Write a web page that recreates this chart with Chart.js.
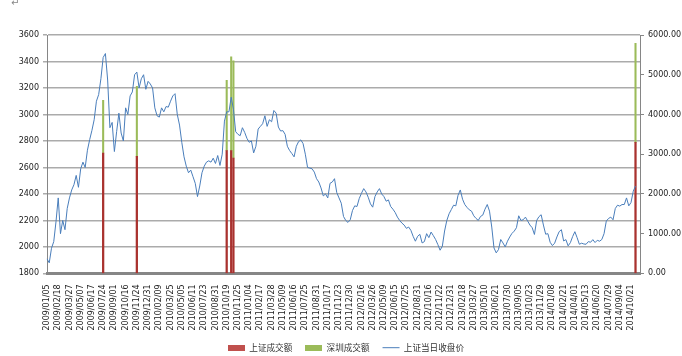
<!DOCTYPE html>
<html><head><meta charset="utf-8">
<script src="https://cdn.jsdelivr.net/npm/chart.js@4/dist/chart.umd.min.js"></script>
<style>
html,body{margin:0;padding:0;background:#fff;overflow:hidden;}
#wrap{position:relative;width:682px;height:362px;}
#mark{position:absolute;left:11px;top:-3px;font:10px "DejaVu Sans";color:#888;}
</style></head><body>
<div id="wrap"><canvas id="c" width="682" height="362"></canvas><span id="mark">↵</span></div>
<script>
const tickLabels = [
'2009/01/05','2009/02/18','2009/03/27','2009/05/07','2009/06/17','2009/07/24','2009/09/01','2009/10/16','2009/11/24','2009/12/31',
'2010/02/09','2010/03/25','2010/05/05','2010/06/11','2010/07/23','2010/08/31','2010/10/19','2010/11/25',
'2011/01/04','2011/02/17','2011/03/28','2011/05/09','2011/06/16','2011/07/25','2011/08/31','2011/10/17','2011/11/23','2011/12/30',
'2012/02/16','2012/03/26','2012/05/09','2012/06/15','2012/07/25','2012/08/31','2012/10/16','2012/11/22','2012/12/31',
'2013/02/18','2013/03/27','2013/05/10','2013/06/21','2013/07/30','2013/09/05','2013/10/23','2013/11/29',
'2014/01/08','2014/02/21','2014/04/01','2014/05/13','2014/06/20','2014/07/29','2014/09/04','2014/10/21'];
const pointsPerLabel = 5;
const categoryCount = 265;

const shClose = [
1910,1880,1990,2040,2190,2370,2100,2200,2130,2290,
2370,2430,2470,2540,2450,2590,2640,2600,2730,2810,
2880,2960,3100,3150,3270,3430,3460,3260,2900,2940,
2720,2870,3010,2860,2800,3050,3000,3140,3170,3300,
3320,3200,3270,3300,3190,3250,3230,3200,3050,2990,
2980,3050,3020,3060,3055,3100,3140,3157,3000,2920,
2790,2680,2610,2560,2580,2530,2480,2380,2460,2560,
2610,2640,2650,2640,2670,2630,2690,2615,2700,2950,
3020,3020,3130,3040,2870,2850,2840,2900,2865,2820,
2790,2800,2710,2760,2890,2910,2930,2990,2910,2960,
2945,3030,3010,2905,2875,2878,2850,2760,2728,2705,
2680,2760,2795,2808,2780,2700,2600,2595,2590,2565,
2515,2490,2445,2385,2400,2370,2480,2490,2515,2410,
2370,2330,2230,2200,2185,2205,2275,2310,2305,2365,
2405,2440,2415,2375,2325,2300,2380,2415,2440,2400,
2380,2345,2355,2305,2285,2260,2225,2200,2180,2165,
2140,2150,2125,2080,2043,2080,2095,2030,2040,2100,
2070,2112,2085,2056,2018,1975,2005,2120,2200,2250,
2282,2315,2310,2390,2430,2360,2320,2298,2280,2270,
2235,2215,2200,2230,2240,2285,2320,2270,2150,1992,
1955,1980,2056,2030,2000,2043,2075,2102,2119,2145,
2235,2200,2205,2225,2195,2165,2145,2094,2200,2228,
2243,2165,2096,2100,2035,2010,2028,2075,2115,2130,
2045,2055,2008,2032,2078,2115,2070,2020,2028,2022,
2020,2040,2035,2055,2033,2050,2043,2056,2100,2195,
2215,2225,2205,2290,2315,2308,2320,2320,2370,2310,
2335,2420,2460];

const volumeDays = [25, 40, 80, 82, 83, 262];
const shVolume = [3030, 2944, 3089, 3089, 2904, 3299];
const szVolume = [1324, 1765, 1772, 2362, 2445, 2491];

const seriesNames = ['上证成交额', '深圳成交额', '上证当日收盘价'];
const leftTicks = {min: 1800, max: 3600, step: 200};
const rightTicks = {min: 0, max: 6000, step: 1000};

const categories = Array.from({length: categoryCount}, (_, i) =>
  i % pointsPerLabel === 0 && tickLabels[i / pointsPerLabel] ? tickLabels[i / pointsPerLabel] : '');
const shBars = new Array(categoryCount).fill(null);
const szBars = new Array(categoryCount).fill(null);
volumeDays.forEach((d, k) => { shBars[d] = shVolume[k]; szBars[d] = szVolume[k]; });

const RED = '#A9322F', GREEN = '#9BBB59', BLUE = '#4A7EBB';
function swatch(color) {
  const c = document.createElement('canvas');
  c.width = 17; c.height = 6;
  const g = c.getContext('2d');
  g.fillStyle = color; g.fillRect(0, 0, 17, 6);
  return c;
}
const swatches = [swatch('#C0504D'), swatch(GREEN), 'line'];

const tickFont = {family: 'DejaVu Sans', size: 8};
new Chart(document.getElementById('c'), {
  type: 'bar',
  data: {
    labels: categories,
    datasets: [
      {label: seriesNames[0], data: shBars, backgroundColor: RED, yAxisID: 'y1', stack: 'v', barThickness: 1.6, order: 1},
      {label: seriesNames[1], data: szBars, backgroundColor: GREEN, yAxisID: 'y1', stack: 'v', barThickness: 1.4, order: 1},
      {label: seriesNames[2], data: shClose, type: 'line', yAxisID: 'y', borderColor: BLUE, backgroundColor: BLUE,
       borderWidth: 1, pointRadius: 0, tension: 0, order: 0}
    ]
  },
  options: {
    responsive: false,
    animation: false,
    layout: {padding: {top: 35, left: 10, right: 0, bottom: 0}},
    plugins: {
      tooltip: {enabled: false},
      legend: {
        position: 'bottom',
        labels: {
          usePointStyle: true,
          pointStyleWidth: 17,
          padding: 13,
          color: '#333',
          font: {family: 'Noto Sans CJK SC', size: 8.6},
          generateLabels(chart) {
            const items = Chart.defaults.plugins.legend.labels.generateLabels(chart);
            items.forEach(it => {
              it.pointStyle = swatches[it.datasetIndex];
              if (it.datasetIndex === 2) { it.strokeStyle = BLUE; it.lineWidth = 1; }
            });
            return items.sort((a, b) => a.datasetIndex - b.datasetIndex);
          }
        }
      }
    },
    scales: {
      x: {
        type: 'category', offset: false, stacked: true,
        grid: {display: false},
        border: {display: true, color: '#868686', width: 3},
        ticks: {autoSkip: false, minRotation: 90, maxRotation: 90, padding: 3, font: tickFont, color: '#222'},
        afterFit(s) { s.height = 57; }
      },
      y: {
        position: 'left', min: leftTicks.min, max: leftTicks.max,
        ticks: {stepSize: leftTicks.step, font: tickFont, color: '#222', padding: 4, callback: v => String(v)},
        grid: {color: '#ABABAB', lineWidth: 1.5, tickLength: 4},
        border: {color: '#868686'},
        afterFit(s) { s.width = 37; }
      },
      y1: {
        position: 'right', min: rightTicks.min, max: rightTicks.max, stacked: true,
        ticks: {stepSize: rightTicks.step, font: tickFont, color: '#222', padding: 4, callback: v => Number(v).toFixed(2)},
        grid: {drawOnChartArea: false, tickLength: 4, color: '#868686'},
        border: {color: '#868686'},
        afterFit(s) { s.width = 42; }
      }
    }
  }
});
</script>
</body></html>
